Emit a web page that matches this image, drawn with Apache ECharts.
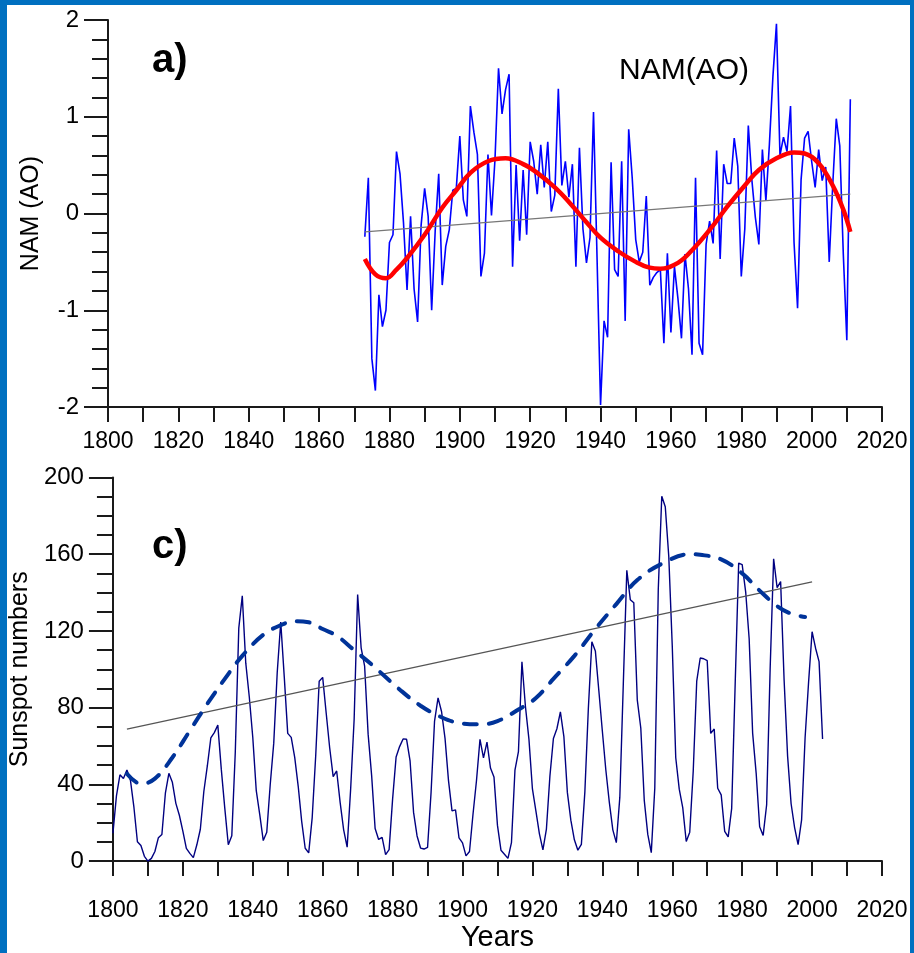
<!DOCTYPE html>
<html><head><meta charset="utf-8">
<script src="https://cdn.jsdelivr.net/npm/echarts@6.0.0/dist/echarts.min.js"></script>
<style>html,body{margin:0;padding:0;background:#fff}#c{width:914px;height:953px}</style>
</head><body><div id="c"></div>
<script>
// ---------- Panel a) NAM (AO) annual index ----------
const namStartYear = 1873;
const namValues = [
 -0.24, 0.37,-1.50,-1.83,-0.84,-1.17,-1.00,-0.30,-0.22, 0.64, // 1873-1882
  0.41,-0.10,-0.79,-0.03,-0.78,-1.12,-0.12, 0.26,-0.03,-1.00, // 1883-1892
 -0.18, 0.41,-0.74,-0.34,-0.17, 0.24, 0.26, 0.80, 0.14,-0.03, // 1893-1902
  1.11, 0.84, 0.61,-0.65,-0.41, 0.61,-0.02, 0.56, 1.50, 1.03, // 1903-1912
  1.28, 1.44,-0.55, 0.50,-0.28, 0.45,-0.22, 0.74, 0.54, 0.20, // 1913-1922
  0.71, 0.27, 0.74, 0.02, 0.19, 1.29, 0.29, 0.54, 0.17, 0.51, // 1923-1932
 -0.55, 0.68,-0.16,-0.51,-0.25, 1.05,-0.45,-1.98,-1.11,-1.28, // 1933-1942
  0.53,-0.58,-0.65, 0.54,-1.11, 0.87, 0.37,-0.27,-0.50,-0.40, // 1943-1952
  0.18,-0.74,-0.66,-0.61,-0.58,-1.34,-0.41,-1.23,-0.55,-0.88, // 1953-1962
 -1.29,-0.42,-0.78,-1.46, 0.37,-1.34,-1.46,-0.32,-0.08,-0.31, // 1963-1972
  0.65,-0.47, 0.51, 0.31, 0.31, 0.78, 0.49,-0.65,-0.16, 0.91, // 1973-1982
  0.35,-0.04,-0.32, 0.66, 0.13, 0.72, 1.42, 1.96, 0.60, 0.79, // 1983-1992
  0.64, 1.11,-0.30,-0.98, 0.35, 0.78, 0.85, 0.54, 0.27, 0.66, // 1993-2002
  0.34, 0.48,-0.50, 0.30, 0.98, 0.70,-0.42,-1.31, 1.18        // 2003-2011
];
const namFitYears  = [1873,1876,1879,1882,1885,1890,1895,1899,1903,1908,1913,1918,1922,1927,1931,1936,1940,1945,1950,1954,1957,1962,1966,1971,1976,1981,1985,1990,1995,1998,2002,2006,2009,2011];
const namFitValues = [-0.47,-0.63,-0.67,-0.58,-0.46,-0.22,0.06,0.24,0.42,0.54,0.57,0.51,0.42,0.27,0.12,-0.09,-0.25,-0.39,-0.50,-0.56,-0.57,-0.51,-0.38,-0.17,0.07,0.29,0.45,0.57,0.63,0.62,0.52,0.29,0.04,-0.19];
const namTrendYears  = [1873, 2011];
const namTrendValues = [-0.19, 0.20];

// ---------- Panel c) Sunspot numbers ----------
const sunStartYear = 1800;
const sunValues = [
 14.5,34.0,45.0,43.1,47.5,42.2,28.1,10.1,8.1,2.5,      // 1800-1809
 0.0,1.4,5.0,12.2,13.9,35.4,45.8,41.1,30.1,23.9,       // 1810-1819
 15.6,6.6,4.0,1.8,8.5,16.6,36.3,49.6,64.2,67.0,        // 1820-1829
 70.9,47.8,27.5,8.5,13.2,56.9,121.5,138.3,103.2,85.7,  // 1830-1839
 64.6,36.7,24.2,10.7,15.0,40.1,61.5,98.5,124.7,96.3,   // 1840-1849
 66.6,64.5,54.1,39.0,20.6,6.7,4.3,22.7,54.8,93.8,      // 1850-1859
 95.8,77.2,59.1,44.0,47.0,30.5,16.3,7.3,37.6,74.0,     // 1860-1869
 139.0,111.2,101.6,66.2,44.7,17.0,11.3,12.4,3.4,6.0,   // 1870-1879
 32.3,54.3,59.7,63.7,63.5,52.2,25.4,13.1,6.8,6.3,      // 1880-1889
 7.1,35.6,73.0,85.1,78.0,64.0,41.8,26.2,26.7,12.1,     // 1890-1899
 9.5,2.7,5.0,24.4,42.0,63.5,53.8,62.0,48.5,43.9,       // 1900-1909
 18.6,5.7,3.6,1.4,9.6,47.4,57.1,103.9,80.6,63.6,       // 1910-1919
 37.6,26.1,14.2,5.8,16.7,44.3,63.9,69.0,77.8,64.9,     // 1920-1929
 35.7,21.2,11.1,5.7,8.7,36.1,79.7,114.4,109.6,88.8,    // 1930-1939
 67.8,47.5,30.6,16.3,9.6,33.2,92.6,151.6,136.3,134.7,  // 1940-1949
 83.9,69.4,31.5,13.9,4.4,38.0,141.7,190.2,184.8,159.0, // 1950-1959
 112.3,53.9,37.5,27.9,10.2,15.1,47.0,93.8,105.9,105.5, // 1960-1969
 104.5,66.6,68.9,38.0,34.5,15.5,12.6,27.5,92.5,155.4,  // 1970-1979
 154.6,140.4,115.9,66.6,45.9,17.9,13.4,29.4,100.2,157.6, // 1980-1989
 142.6,145.7,94.3,54.6,29.9,17.5,8.6,21.5,64.3,93.3,   // 1990-1999
 119.6,111.0,104.0,63.7                                // 2000-2003
];
const sunFitYears  = [1804,1808,1812,1817,1822,1827,1832,1837,1843,1848,1852,1856,1860,1864,1869,1874,1882,1888,1894,1899,1905,1910,1916,1921,1926,1932,1938,1944,1950,1957,1965,1968,1974,1980,1985,1990,1994,1998];
const sunFitValues = [45.5,40.3,43,54,68,82,95,107,118,123,125,124.5,121,117.5,110,102.5,89.5,81,75,72,71.3,73,79,85,95,107,121,134,146.5,155,160,159.7,157.3,150,141,133,129,127.3];
const sunTrendYears  = [1804, 2000];
const sunTrendValues = [68.8, 145.6];

// ---------- axis tick label texts ----------
const xTickLabels = ['1800','1820','1840','1860','1880','1900','1920','1940','1960','1980','2000','2020'];

const pairs = (xs, ys) => xs.map((x, i) => [x, ys[i]]);
const annual = (start, vals) => vals.map((v, i) => [start + i, v]);

const FONT = "'Liberation Sans', Arial, Helvetica, sans-serif";
const AX = '#1a1a1a';

function xAxis(gi, labelMargin, name) {
  return {
    type: 'value', gridIndex: gi, min: 1800, max: 2020, interval: 10,
    axisLine: { show: true, onZero: false, lineStyle: { color: AX, width: 2 } },
    axisTick: { show: true, length: 15, lineStyle: { color: AX, width: 2 } },
    axisLabel: {
      margin: labelMargin, color: '#000', fontSize: 23, fontFamily: FONT,
      formatter: v => (xTickLabels.indexOf(String(v)) >= 0 ? String(v) : '')
    },
    splitLine: { show: false },
    name: name || '', nameLocation: 'middle', nameGap: 61,
    nameTextStyle: { color: '#000', fontSize: 29, fontFamily: FONT }
  };
}
function yAxis(gi, min, max, interval, minorSplit, name, nameGap) {
  return {
    type: 'value', gridIndex: gi, min: min, max: max, interval: interval,
    axisLine: { show: true, onZero: false, lineStyle: { color: AX, width: 2 } },
    axisTick: { show: true, length: 24, lineStyle: { color: AX, width: 2 } },
    minorTick: { show: true, splitNumber: minorSplit, length: 16, lineStyle: { color: AX, width: 2 } },
    axisLabel: { margin: 29, color: '#000', fontSize: 24, fontFamily: FONT },
    splitLine: { show: false }, minorSplitLine: { show: false },
    name: name, nameLocation: 'middle', nameRotate: 90, nameGap: nameGap,
    nameTextStyle: { color: '#000', fontSize: 25, fontFamily: FONT }
  };
}

const chart = echarts.init(document.getElementById('c'), null, { renderer: 'canvas' });
chart.setOption({
  animation: false,
  backgroundColor: '#ffffff',
  grid: [
    { left: 108, top: 20, width: 774, height: 387 },
    { left: 108, top: 477.5, width: 774, height: 387.5 }
  ],
  xAxis: [ xAxis(0, 23, ''), xAxis(1, 38, 'Years') ],
  yAxis: [
    yAxis(0, -2, 2, 1, 5, 'NAM (AO)', 64),
    yAxis(1, 0, 200, 40, 4, 'Sunspot numbers', 71)
  ],
  graphic: [
    { type: 'rect', shape: { x: 0, y: 0, width: 914, height: 5 }, style: { fill: '#0070c0' }, z: 100 },
    { type: 'rect', shape: { x: 0, y: 0, width: 7, height: 953 }, style: { fill: '#0070c0' }, z: 100 },
    { type: 'rect', shape: { x: 910, y: 0, width: 4, height: 953 }, style: { fill: '#0070c0' }, z: 100 },
    { type: 'text', x: 152, y: 41, style: { text: 'a)', font: "bold 40px " + FONT, fill: '#000', textVerticalAlign: 'top' }, z: 50 },
    { type: 'text', x: 152, y: 527, style: { text: 'c)', font: "bold 40px " + FONT, fill: '#000', textVerticalAlign: 'top' }, z: 50 },
    { type: 'text', x: 619, y: 56, style: { text: 'NAM(AO)', font: "30px " + FONT, fill: '#000', textVerticalAlign: 'top' }, z: 50 }
  ],
  series: [
    { type: 'line', xAxisIndex: 0, yAxisIndex: 0, data: annual(namStartYear, namValues),
      showSymbol: false, symbol: 'none', lineStyle: { color: '#0000ff', width: 1.6 }, z: 2 },
    { type: 'line', xAxisIndex: 0, yAxisIndex: 0, data: pairs(namTrendYears, namTrendValues),
      showSymbol: false, symbol: 'none', lineStyle: { color: '#777777', width: 1.3 }, z: 3 },
    { type: 'line', xAxisIndex: 0, yAxisIndex: 0, data: pairs(namFitYears, namFitValues), smooth: 0.4,
      showSymbol: false, symbol: 'none', lineStyle: { color: '#ff0000', width: 4.5 }, z: 4 },

    { type: 'line', xAxisIndex: 1, yAxisIndex: 1, data: annual(sunStartYear, sunValues),
      showSymbol: false, symbol: 'none', lineStyle: { color: '#000080', width: 1.4 }, z: 2 },
    { type: 'line', xAxisIndex: 1, yAxisIndex: 1, data: pairs(sunTrendYears, sunTrendValues),
      showSymbol: false, symbol: 'none', lineStyle: { color: '#555555', width: 1.3 }, z: 3 },
    { type: 'line', xAxisIndex: 1, yAxisIndex: 1, data: pairs(sunFitYears, sunFitValues), smooth: 0.4,
      showSymbol: false, symbol: 'none', lineStyle: { color: '#003399', width: 4, type: [13, 12], cap: 'round' }, z: 4 }
  ]
});
</script>
</body></html>
